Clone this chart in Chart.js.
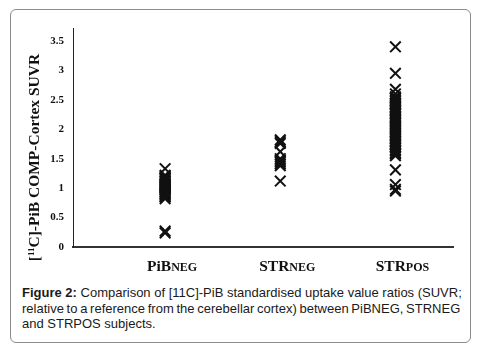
<!DOCTYPE html>
<html>
<head>
<meta charset="utf-8">
<script src="https://cdn.jsdelivr.net/npm/chart.js@4/dist/chart.umd.min.js"></script>
<style>
  body { margin:0; background:#fff; }
  #frame { position:absolute; left:10px; top:9px; width:459px; height:332px; border:1px solid #8c8c8c; border-radius:6px; }
  #myChart { position:absolute; left:0; top:0; }
  .cap { position:absolute; left:22px; top:285px; font-family:"Liberation Sans", Arial, sans-serif; font-size:13px; line-height:15.5px; color:#1a1a1a; white-space:nowrap; }
  .l2 { word-spacing:-0.9px; }
</style>
</head>
<body>
<div id="frame"></div>
<canvas id="myChart" width="480" height="280"></canvas>
<div class="cap"><b>Figure 2:</b> Comparison of [11C]-PiB standardised uptake value ratios (SUVR;<br><span class="l2">relative to a reference from the cerebellar cortex) between PiBNEG, STRNEG</span><br>and STRPOS subjects.</div>
<script>
// group labels: main part + small caps part
var catMain = ['PiB', 'STR', 'STR']
var catSub = ['NEG', 'NEG', 'POS']
var catX = [1, 2, 3]
var tickLabels = ['0', '0.5', '1', '1.5', '2', '2.5', '3', '3.5']

// SUVR values
var pibNeg = [1.33, 1.22, 1.2, 1.18, 1.17, 1.15, 1.13, 1.12, 1.1, 1.08, 1.07, 1.05, 1.04, 1.02, 1.01, 0.99, 0.98, 0.96, 0.94, 0.93, 0.91, 0.9, 0.88, 0.86, 0.85, 0.82, 0.27, 0.24]
var strNeg = [1.82, 1.79, 1.76, 1.62, 1.5, 1.47, 1.44, 1.41, 1.38, 1.12]
var strPos = [3.4, 2.95, 2.68, 2.6, 2.55, 2.53, 2.5, 2.48, 2.45, 2.43, 2.41, 2.38, 2.36, 2.33, 2.31, 2.28, 2.26, 2.22, 2.2, 2.18, 2.15, 2.13, 2.1, 2.08, 2.05, 2.03, 2.01, 1.98, 1.96, 1.93, 1.91, 1.88, 1.86, 1.83, 1.8, 1.78, 1.75, 1.73, 1.7, 1.68, 1.65, 1.63, 1.6, 1.58, 1.55, 1.31, 1.06, 0.98, 0.95]

var yTitle = ['[', '11', 'C]-PiB COMP-Cortex SUVR']

function toPoints(xv, arr){
    var out = []
    for(var i = 0 ; i < arr.length ; i++){
        out.push({x: xv, y: arr[i]})
    }
    return out
}

var labelPlugin = {
    id: 'labels',
    afterDraw: function(chart){
        var ctx = chart.ctx
        var xs = chart.scales.x
        var ys = chart.scales.y
        ctx.save()
        ctx.fillStyle = '#111'
        ctx.textBaseline = 'alphabetic'
        ctx.textAlign = 'left'
        for(var i = 0 ; i < catMain.length ; i++){
            ctx.font = 'bold 15.5px "Liberation Serif"'
            var w1 = ctx.measureText(catMain[i]).width
            ctx.font = 'bold 12px "Liberation Serif"'
            var w2 = ctx.measureText(catSub[i]).width
            var cx = xs.getPixelForValue(catX[i]) + 7
            var left = cx - (w1 + w2) / 2
            ctx.font = 'bold 15.5px "Liberation Serif"'
            ctx.fillText(catMain[i], left, 271)
            ctx.font = 'bold 12px "Liberation Serif"'
            ctx.fillText(catSub[i], left + w1, 271)
        }
        // rotated y title with superscript
        ctx.font = 'bold 15.5px "Liberation Serif"'
        var a = ctx.measureText(yTitle[0]).width
        var c = ctx.measureText(yTitle[2]).width
        ctx.font = 'bold 9px "Liberation Serif"'
        var b = ctx.measureText(yTitle[1]).width
        var total = a + b + c
        ctx.translate(39, (ys.top + ys.bottom) / 2 + 20)
        ctx.rotate(-Math.PI / 2)
        var sx = -total / 2
        ctx.font = 'bold 15.5px "Liberation Serif"'
        ctx.fillText(yTitle[0], sx, 0)
        ctx.font = 'bold 9px "Liberation Serif"'
        ctx.fillText(yTitle[1], sx + a, -5)
        ctx.font = 'bold 15.5px "Liberation Serif"'
        ctx.fillText(yTitle[2], sx + a + b, 0)
        ctx.restore()
    }
}

var ctx = document.getElementById('myChart').getContext('2d')
var chart1 = new Chart(ctx, {
    type: 'scatter',
    plugins: [labelPlugin],
    data: {
        datasets: [
            {label: 'PiBNEG', data: toPoints(catX[0], pibNeg)},
            {label: 'STRNEG', data: toPoints(catX[1], strNeg)},
            {label: 'STRPOS', data: toPoints(catX[2], strPos)}
        ]
    },
    options: {
        responsive: false,
        animation: false,
        layout: { padding: { top: 28, right: 27, bottom: 33, left: 0 } },
        elements: {
            point: {
                pointStyle: 'crossRot',
                radius: 7.5,
                borderWidth: 2,
                borderColor: '#111',
                backgroundColor: '#111'
            }
        },
        scales: {
            x: {
                type: 'linear',
                min: 0.2,
                max: 3.5,
                grid: { display: false, drawTicks: false },
                ticks: { display: false },
                border: { color: '#333', width: 2 },
                afterFit: function(scale){ scale.height = 0 }
            },
            y: {
                min: 0,
                max: 3.72,
                grid: { display: false, drawTicks: false },
                border: { color: '#222', width: 1 },
                ticks: {
                    stepSize: 0.5,
                    includeBounds: false,
                    padding: 9,
                    color: '#111',
                    font: { family: "'Liberation Serif', serif", size: 11, weight: 'bold' },
                    callback: function(value, index){ return tickLabels[index] }
                },
                afterFit: function(scale){ scale.width = 73 }
            }
        },
        plugins: {
            legend: { display: false },
            tooltip: { enabled: false }
        }
    }
})
</script>
</body>
</html>
